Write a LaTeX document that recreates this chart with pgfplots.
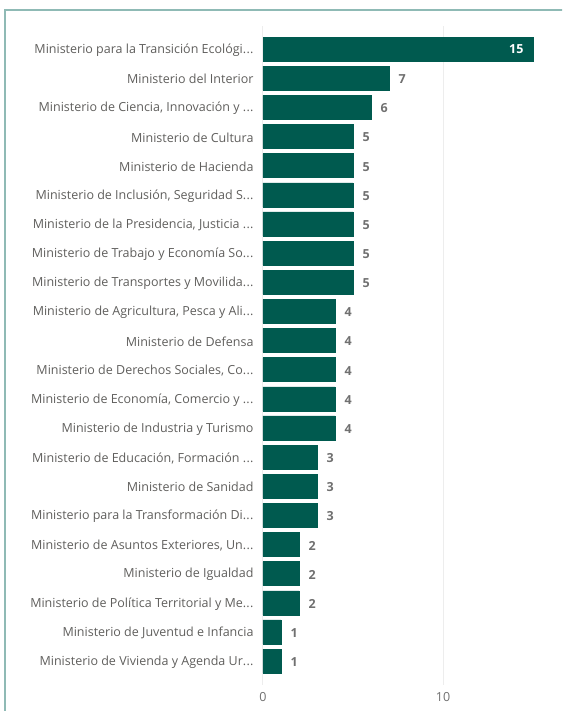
\documentclass[border=0pt]{standalone}
\usepackage{pgfplots}
\pgfplotsset{compat=1.18}
\usepackage{fontspec}
\setmainfont{Open Sans}
\definecolor{barc}{HTML}{005A4F}
\definecolor{lab}{HTML}{5F5E5C}
\definecolor{vallab}{HTML}{707070}
\definecolor{framec}{HTML}{8FBAB5}
\definecolor{gridc}{HTML}{EDEDED}
\newcommand{\dd}{.\kern0.3pt.\kern0.3pt.}
\begin{document}
\begin{tikzpicture}
\useasboundingbox (-263pt,-26pt) rectangle (299pt,685pt);
\begin{scope}
\clip (-263pt,-26pt) rectangle (299pt,685pt);
\draw[framec, line width=2pt] (-257.5pt,-60pt) -- (-257.5pt,675pt) -- (340pt,675pt);
\end{scope}
\begin{axis}[
  at={(0pt,0pt)}, anchor=south west,
  scale only axis, width=288pt, height=659pt,
  xbar, bar shift=0pt, bar width=24pt,
  xmin=0, xmax=16, ymin=-0.79, ymax=21.82, y dir=reverse,
  axis line style={draw=none}, major tick length=0pt, tick style={draw=none},
  xtick={0,10}, xmajorgrids, grid style={gridc, line width=1pt},
  ytick={0,1,2,3,4,5,6,7,8,9,10,11,12,13,14,15,16,17,18,19,20,21},
  yticklabels={
    {Ministerio para la Transición Ecológi\dd},
    {Ministerio del Interior},
    {Ministerio de Ciencia, Innovación y \dd},
    {Ministerio de Cultura},
    {Ministerio de Hacienda},
    {Ministerio de Inclusión, Seguridad S\dd},
    {Ministerio de la Presidencia, Justicia \dd},
    {Ministerio de Trabajo y Economía So\dd},
    {Ministerio de Transportes y Movilida\dd},
    {Ministerio de Agricultura, Pesca y Ali\dd},
    {Ministerio de Defensa},
    {Ministerio de Derechos Sociales, Co\dd},
    {Ministerio de Economía, Comercio y \dd},
    {Ministerio de Industria y Turismo},
    {Ministerio de Educación, Formación \dd},
    {Ministerio de Sanidad},
    {Ministerio para la Transformación Di\dd},
    {Ministerio de Asuntos Exteriores, Un\dd},
    {Ministerio de Igualdad},
    {Ministerio de Política Territorial y Me\dd},
    {Ministerio de Juventud e Infancia},
    {Ministerio de Vivienda y Agenda Ur\dd}},
  yticklabel style={font=\fontsize{12.5}{14}\selectfont, text=lab, xshift=-6pt, yshift=-1pt},
  xticklabel style={font=\fontsize{12.5}{14}\selectfont, text=vallab, yshift=-4pt},
  /pgf/number format/assume math mode=true,
]
\addplot[fill=barc, draw=barc,
  nodes near coords,
  every node near coord/.append style={font=\fontsize{12.5}{14}\selectfont\bfseries, text=vallab, anchor=west, xshift=6pt, yshift=-1pt}]
  coordinates {(7,1) (6,2) (5,3) (5,4) (5,5) (5,6) (5,7) (5,8) (4,9) (4,10) (4,11) (4,12) (4,13) (3,14) (3,15) (3,16) (2,17) (2,18) (2,19) (1,20) (1,21)};
\addplot[fill=barc, draw=barc,
  nodes near coords,
  every node near coord/.append style={font=\fontsize{12.5}{14}\selectfont\bfseries, text=white, anchor=east, xshift=-6pt}]
  coordinates {(15,0)};
\end{axis}
\end{tikzpicture}
\end{document}
